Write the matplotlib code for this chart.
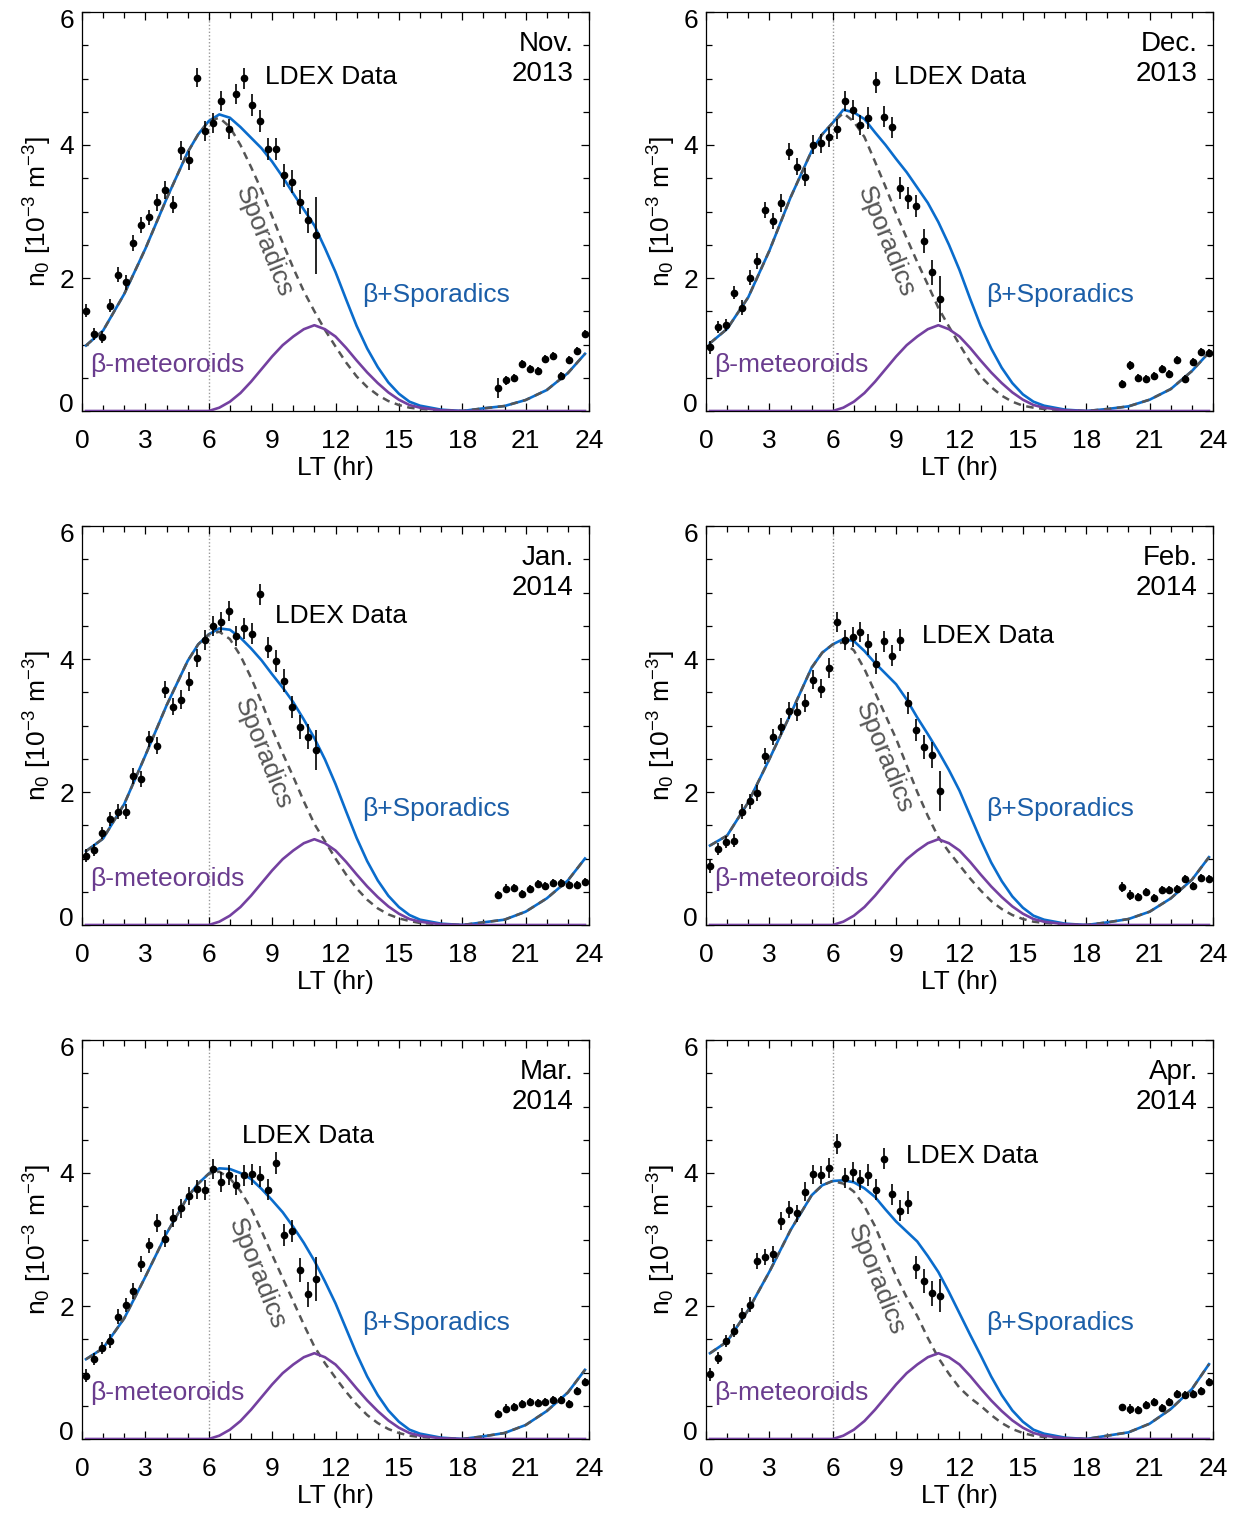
import numpy as np
import matplotlib.pyplot as plt
import matplotlib.transforms as mtransforms
from matplotlib.ticker import MultipleLocator

plt.rcParams['font.family'] = ['Liberation Sans', 'DejaVu Sans']
plt.rcParams['mathtext.fontset'] = 'custom'
plt.rcParams['mathtext.rm'] = 'Liberation Sans'
plt.rcParams['mathtext.it'] = 'Liberation Sans:italic'

# LDEX bins: 64 bins of 0.375 hr, dayside bins 0-29 and nightside bins 52-63
n_bins = 64
lt_bins = (np.arange(n_bins) + 0.5) * 24.0 / n_bins
lt_day = lt_bins[:30]
lt_night = lt_bins[52:]

months = ['Nov.\n2013', 'Dec.\n2013', 'Jan.\n2014', 'Feb.\n2014', 'Mar.\n2014', 'Apr.\n2014']

nov_day = [1.51, 1.16, 1.12, 1.585, 2.05, 1.935, 2.525, 2.795, 2.91, 3.14, 3.325, 3.105, 3.92, 3.77, 5.015,
           4.21, 4.33, 4.66, 4.24, 4.76, 5.005, 4.6, 4.36, 3.94, 3.94, 3.545, 3.45, 3.14, 2.87, 2.64]
nov_night = [0.345, 0.46, 0.495, 0.7, 0.635, 0.595, 0.78, 0.825, 0.525, 0.76, 0.895, 1.16]
dec_day = [0.96, 1.27, 1.295, 1.78, 1.555, 2.005, 2.255, 3.025, 2.85, 3.13, 3.9, 3.675, 3.52, 4.005, 4.025,
           4.12, 4.235, 4.665, 4.52, 4.305, 4.405, 4.945, 4.425, 4.265, 3.355, 3.205, 3.085, 2.555, 2.085, 1.685]
dec_night = [0.41, 0.685, 0.5, 0.485, 0.525, 0.635, 0.56, 0.77, 0.475, 0.735, 0.885, 0.875]
jan_day = [1.045, 1.13, 1.385, 1.595, 1.705, 1.705, 2.245, 2.19, 2.8, 2.695, 3.54, 3.285, 3.39, 3.66, 4.015,
           4.28, 4.5, 4.55, 4.725, 4.34, 4.46, 4.38, 4.97, 4.17, 3.97, 3.675, 3.28, 2.98, 2.83, 2.635]
jan_night = [0.445, 0.545, 0.555, 0.47, 0.535, 0.61, 0.58, 0.63, 0.63, 0.6, 0.595, 0.65]
feb_day = [0.885, 1.14, 1.25, 1.27, 1.705, 1.86, 1.99, 2.535, 2.82, 2.98, 3.225, 3.205, 3.34, 3.69, 3.555,
           3.865, 4.56, 4.29, 4.335, 4.405, 4.22, 3.93, 4.265, 4.05, 4.285, 3.34, 2.935, 2.67, 2.555, 2.02]
feb_night = [0.57, 0.45, 0.42, 0.495, 0.41, 0.525, 0.53, 0.545, 0.69, 0.585, 0.71, 0.685]
mar_day = [0.95, 1.205, 1.365, 1.475, 1.84, 2.015, 2.23, 2.63, 2.91, 3.25, 3.01, 3.325, 3.47, 3.655, 3.755,
           3.75, 4.065, 3.865, 3.975, 3.825, 3.965, 3.98, 3.945, 3.75, 4.15, 3.07, 3.13, 2.535, 2.175, 2.405]
mar_night = [0.38, 0.455, 0.475, 0.53, 0.555, 0.54, 0.555, 0.59, 0.58, 0.525, 0.725, 0.86]
apr_day = [0.975, 1.215, 1.475, 1.63, 1.86, 2.02, 2.68, 2.73, 2.775, 3.28, 3.45, 3.395, 3.72, 3.98, 3.97,
           4.08, 4.43, 3.93, 4.01, 3.9, 3.97, 3.75, 4.215, 3.68, 3.435, 3.555, 2.58, 2.38, 2.19, 2.155]
apr_night = [0.475, 0.45, 0.43, 0.505, 0.55, 0.46, 0.555, 0.675, 0.665, 0.675, 0.725, 0.85]

# 1-sigma errors
day_err = [0.10, 0.09, 0.09, 0.10, 0.11, 0.11, 0.12, 0.12, 0.12, 0.13, 0.13, 0.13, 0.14, 0.14, 0.14,
           0.15, 0.15, 0.15, 0.15, 0.15, 0.16, 0.16, 0.16, 0.16, 0.16, 0.17, 0.17, 0.18, 0.19, 0.30]
last_err = [0.58, 0.35, 0.30, 0.30, 0.33, 0.25]
night_err = [0.10, 0.07, 0.06, 0.06, 0.06, 0.06, 0.06, 0.06, 0.06, 0.06, 0.06, 0.06]
first_night_err = [0.15, 0.06, 0.06, 0.07, 0.05, 0.05]

# model curves
lt_model = [0.19, 1, 2, 3, 4, 5, 5.5, 6, 6.5, 7, 7.5, 8, 8.5, 9, 9.5, 10, 10.5, 11, 11.5, 12, 12.5, 13,
            13.5, 14, 14.5, 15, 15.5, 16, 17, 18, 19, 20, 21, 22, 23, 23.81]
beta = [0, 0, 0, 0, 0, 0, 0, 0, 0.05, 0.14, 0.27, 0.44, 0.63, 0.82, 0.99, 1.12, 1.23, 1.29, 1.23, 1.12,
        0.95, 0.76, 0.58, 0.42, 0.28, 0.17, 0.09, 0.05, 0.01, 0, 0, 0, 0, 0, 0, 0]
nov_spor = [0.985, 1.21, 1.76, 2.44, 3.19, 3.89, 4.16, 4.36, 4.41, 4.27, 4.0, 3.67, 3.32, 2.93, 2.53, 2.15,
            1.8, 1.5, 1.22, 0.97, 0.73, 0.52, 0.36, 0.24, 0.15, 0.09, 0.05, 0.03, 0.01, 0.0, 0.04, 0.075,
            0.165, 0.315, 0.57, 0.86]
dec_spor = [1.02, 1.235, 1.71, 2.41, 3.21, 3.91, 4.16, 4.335, 4.48, 4.35, 4.12, 3.75, 3.37, 2.97, 2.6, 2.24,
            1.9, 1.55, 1.27, 1.0, 0.74, 0.52, 0.36, 0.23, 0.14, 0.08, 0.05, 0.03, 0.01, 0.0, 0.03, 0.07,
            0.17, 0.33, 0.6, 0.88]
jan_spor = [1.11, 1.3, 1.82, 2.55, 3.3, 3.97, 4.22, 4.37, 4.41, 4.3, 4.05, 3.72, 3.35, 2.95, 2.58, 2.23,
            1.86, 1.52, 1.26, 1.0, 0.76, 0.55, 0.38, 0.25, 0.16, 0.1, 0.06, 0.03, 0.01, 0.0, 0.04, 0.08,
            0.2, 0.4, 0.67, 1.0]
feb_spor = [1.195, 1.345, 1.845, 2.495, 3.17, 3.87, 4.095, 4.22, 4.25, 4.13, 3.85, 3.5, 3.15, 2.8, 2.4, 2.0,
            1.64, 1.32, 1.1, 0.9, 0.7, 0.52, 0.36, 0.24, 0.15, 0.09, 0.05, 0.03, 0.01, 0.0, 0.04, 0.09,
            0.2, 0.4, 0.68, 1.02]
mar_spor = [1.2, 1.365, 1.815, 2.44, 3.09, 3.64, 3.84, 3.99, 4.02, 3.92, 3.73, 3.47, 3.13, 2.77, 2.42, 2.07,
            1.72, 1.39, 1.14, 0.92, 0.71, 0.52, 0.36, 0.24, 0.15, 0.09, 0.05, 0.03, 0.01, 0.0, 0.04, 0.09,
            0.21, 0.42, 0.7, 1.04]
apr_spor = [1.29, 1.465, 1.94, 2.515, 3.14, 3.665, 3.815, 3.88, 3.84, 3.72, 3.5, 3.2, 2.82, 2.45, 2.13, 1.85,
            1.52, 1.22, 0.98, 0.77, 0.62, 0.5, 0.36, 0.24, 0.15, 0.09, 0.05, 0.03, 0.01, 0.0, 0.05, 0.1,
            0.23, 0.45, 0.75, 1.125]

# label anchors (LT hr, n0)
ldex_pos = [(8.68, 5.03), (8.9, 5.02), (9.14, 4.65), (10.22, 4.35), (7.56, 4.55), (9.46, 4.25)]
spor_pos = [(8.6, 2.55), (8.52, 2.55), (8.58, 2.57), (8.43, 2.52), (8.26, 2.49), (8.05, 2.4)]

y_ticks = [0, 2, 4, 6]

day_sets = [nov_day, dec_day, jan_day, feb_day, mar_day, apr_day]
night_sets = [nov_night, dec_night, jan_night, feb_night, mar_night, apr_night]
spor_sets = [nov_spor, dec_spor, jan_spor, feb_spor, mar_spor, apr_spor]

blue = '#0a6ccc'
blue_txt = '#1b5ea8'
purple = '#7440a0'
purple_txt = '#6a3c8e'
gray = '#555555'

W, H = 1242, 1514
lefts = [82, 706]
tops = [12, 526, 1040]
aw, ah = 507, 399
fs = 19

fig = plt.figure(figsize=(W / 100, H / 100), dpi=100)

for k in range(6):
    r, c = divmod(k, 2)
    ax = fig.add_axes([lefts[c] / W, 1 - (tops[r] + ah) / H, aw / W, ah / H])

    spor = np.array(spor_sets[k])
    b = np.array(beta)
    ax.axvline(6, color='#999999', lw=1.0, ls=(0, (1, 1.5)), zorder=1)
    ax.plot(lt_model, spor + b, color=blue, lw=1.9, zorder=2)
    ax.plot(lt_model, spor, color=gray, lw=1.8, ls=(0, (3, 2.2)), zorder=3)
    ax.plot(lt_model, b, color=purple, lw=1.9, zorder=3)

    derr = list(day_err[:-1]) + [last_err[k]]
    nerr = [first_night_err[k]] + list(night_err[1:])
    ax.errorbar(lt_day, day_sets[k], yerr=derr, fmt='o', color='black', ms=4.5,
                elinewidth=1.2, capsize=0, zorder=4)
    ax.errorbar(lt_night, night_sets[k], yerr=nerr, fmt='o', color='black', ms=4.5,
                elinewidth=1.2, capsize=0, zorder=4)

    ax.set_xlim(0, 24)
    ax.set_ylim(0, 6)
    ax.xaxis.set_major_locator(MultipleLocator(3))
    ax.xaxis.set_minor_locator(MultipleLocator(1))
    ax.set_yticks(y_ticks)
    ax.yaxis.set_minor_locator(MultipleLocator(0.5))
    ax.tick_params(which='both', direction='in', top=True, right=True, width=0.9, labelsize=fs)
    ax.tick_params(which='major', length=6)
    ax.tick_params(which='minor', length=4)
    ax.tick_params(axis='x', pad=13)
    ax.tick_params(axis='y', labelleft=False)
    for sp in ax.spines.values():
        sp.set_linewidth(0.9)

    # y tick labels, end labels pulled inside the axis range like the original
    ytrans = mtransforms.blended_transform_factory(ax.transAxes, ax.transData)
    for v in y_ticks:
        off = 0
        if v == y_ticks[0]:
            off = 8
        elif v == y_ticks[-1]:
            off = -6
        t = ytrans + mtransforms.ScaledTranslation(0, off / 100, fig.dpi_scale_trans)
        ax.text(-0.016, v, str(v), transform=t, ha='right', va='center_baseline', fontsize=fs)

    ax.set_xlabel('LT (hr)', fontsize=fs)
    ax.xaxis.set_label_coords(0.5, -0.113)
    ax.set_ylabel(r'n$_0$ [10$^{-3}$ m$^{-3}$]', fontsize=fs)
    ax.yaxis.set_label_coords(-0.056, 0.5)

    ax.text(0.97, 0.952, months[k], transform=ax.transAxes, ha='right', va='top',
            fontsize=fs + 1, linespacing=1.17)
    ax.text(ldex_pos[k][0], ldex_pos[k][1], 'LDEX Data', ha='left', va='center', fontsize=fs)
    ax.text(spor_pos[k][0], spor_pos[k][1], 'Sporadics', ha='center', va='center',
            rotation=-68, color=gray, fontsize=fs)
    ax.text(13.25, 1.74, '\u03b2+Sporadics', ha='left', va='center', color=blue_txt, fontsize=fs)
    ax.text(0.38, 0.69, '\u03b2-meteoroids', ha='left', va='center', color=purple_txt, fontsize=fs)

fig.savefig('out.png', dpi=100)
